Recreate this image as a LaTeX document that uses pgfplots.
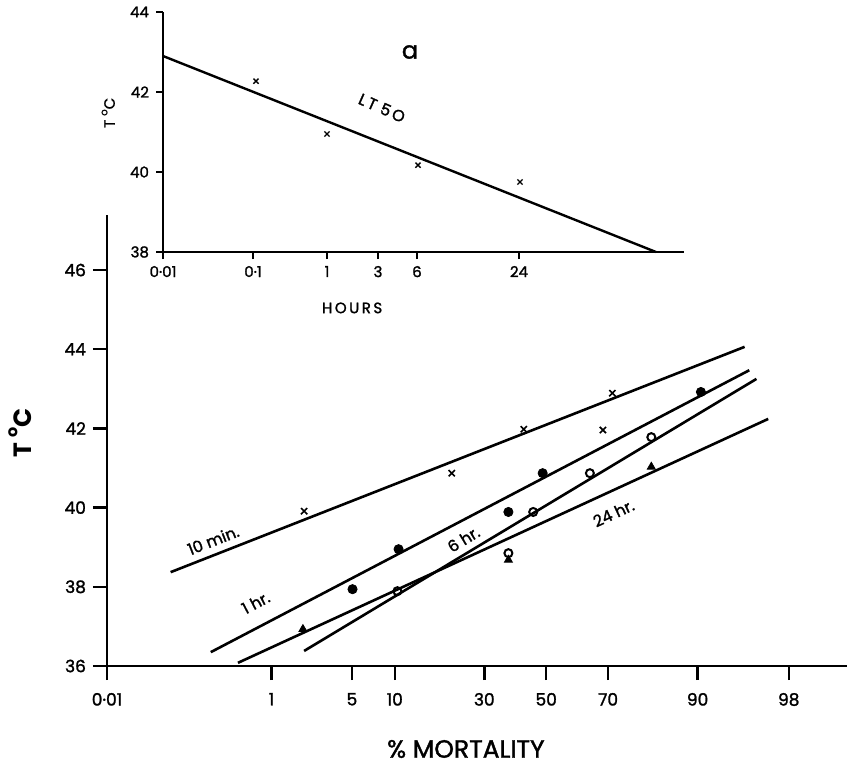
\documentclass[border=0pt]{standalone}
\usepackage{fontspec}
\setmainfont{Poppins}
\newfontfamily\heavy{Poppins}[FakeBold=1.5]
\usepackage{pgfplots}
\pgfplotsset{compat=1.18}
\begin{document}
\begin{tikzpicture}[x=1pt,y=1pt]
\path[use as bounding box] (-53.5pt,-50.5pt) rectangle (370pt,333pt);
% ---------------- main axis ----------------
\begin{axis}[
  at={(0pt,0pt)}, anchor=south west,
  scale only axis, width=370pt, height=225.5pt,
  xmin=-3.719, xmax=2.547, ymin=36, ymax=47.39,
  axis x line=bottom, axis y line=left,
  axis line style={line width=1.4pt,-},
  clip=false,
  xtick={-3.719,-2.326,-1.645,-1.282,-0.524,0,0.524,1.282,2.054},
  xticklabels={0·01,1,5,10,30,50,70,90,98},
  ytick={36,38,40,42,44,46},
  yticklabels={36,38,40,42,44,46},
  tick align=outside, major tick length=7pt,
  tick style={line width=1.2pt,black},
  tick label style={font=\heavy\fontsize{8.5}{10}\selectfont},
  xticklabel style={yshift=-3pt},
  xlabel={\% MORTALITY},
  xlabel style={at={(axis description cs:0.485,-0.184)},anchor=center,font=\heavy\fontsize{12.5}{14}\selectfont},
  ylabel={T \raisebox{0.55em}{\fontsize{8}{9}\selectfont o}C},
  ylabel style={at={(axis description cs:-0.118,0.517)},anchor=center,font=\bfseries\fontsize{12.5}{14}\selectfont},
]
% fitted lines
\addplot[line width=1.3pt] coordinates {(-3.18,38.37) (1.68,44.06)};
\addplot[line width=1.3pt] coordinates {(-2.84,36.35) (1.72,43.47)};
\addplot[line width=1.3pt] coordinates {(-2.05,36.38) (1.78,43.25)};
\addplot[line width=1.3pt] coordinates {(-2.61,36.08) (1.88,42.24)};
% 10 min
\addplot[only marks, mark=x, mark size=2.2pt, line width=0.8pt] coordinates {
(-2.05,39.91) (-0.80,40.87) (-0.19,41.98) (0.48,41.96) (0.56,42.89)};
% 1 hr
\addplot[only marks, mark=*, mark size=2.3pt] coordinates {
(-1.64,37.94) (-1.25,38.95) (-0.32,39.89) (-0.03,40.87) (1.31,42.92)};
% 6 hr
\addplot[only marks, mark=o, mark size=2pt, line width=1pt] coordinates {
(-1.26,37.89) (-0.32,38.85) (-0.11,39.89) (0.37,40.87) (0.89,41.78)};
% 24 hr
\addplot[only marks, mark=triangle*, mark size=2.3pt] coordinates {
(-2.06,36.93) (-0.32,38.68) (0.89,41.03)};
\node[rotate=21.4,font=\heavy\fontsize{8}{9}\selectfont] at (axis cs:-2.82,39.18) {10 min.};
\node[rotate=27.7,font=\heavy\fontsize{8}{9}\selectfont] at (axis cs:-2.46,37.60) {1 hr.};
\node[rotate=31.1,font=\heavy\fontsize{8}{9}\selectfont] at (axis cs:-0.70,39.20) {6 hr.};
\node[rotate=24.8,font=\heavy\fontsize{8}{9}\selectfont] at (axis cs:0.57,39.86) {24 hr.};
\end{axis}
% ---------------- inset ----------------
\begin{axis}[
  at={(28pt,207pt)}, anchor=south west,
  scale only axis, width=260.5pt, height=120pt,
  xmin=0, xmax=521, ymin=38, ymax=44,
  axis x line=bottom, axis y line=left,
  axis line style={line width=1.2pt,-},
  clip=false,
  xtick={0,90,164,215,254,356},
  xticklabels={0·01,0·1,1,3,6,24},
  ytick={38,40,42,44},
  yticklabels={38,40,42,44},
  tick align=outside, major tick length=3.5pt,
  tick style={line width=1pt,black},
  tick label style={font=\heavy\fontsize{7.5}{9}\selectfont},
  xlabel={H\,O\,U\,R\,S},
  xlabel style={at={(axis description cs:0.363,-0.233)},anchor=center,font=\heavy\fontsize{7.5}{9}\selectfont},
  ylabel={T \raisebox{0.5em}{\fontsize{5}{6}\selectfont o}C},
  ylabel style={at={(axis description cs:-0.105,0.58)},anchor=center,font=\heavy\fontsize{7.5}{9}\selectfont},
]
\addplot[line width=1.2pt] coordinates {(0,42.9) (493,38.0)};
\addplot[only marks, mark=x, mark size=1.8pt, line width=0.7pt] coordinates {
(93,42.27) (164,40.95) (255,40.17) (357,39.75)};
\node[font=\heavy\fontsize{12}{14}\selectfont] at (axis cs:247,43.0) {a};
\node[rotate=-24,font=\heavy\fontsize{8}{9}\selectfont] at (axis cs:219,41.6) {L\,T\,\,5\,O};
\end{axis}
\end{tikzpicture}
\end{document}
